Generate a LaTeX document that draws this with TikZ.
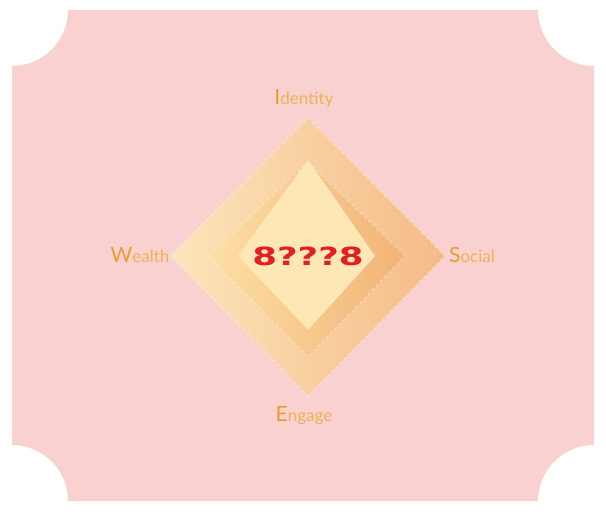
\documentclass[tikz,border=0pt]{standalone}
\usepackage{fontspec}
\setmainfont{Lato}
\newfontfamily\hubfont{DejaVu Sans}
\usepackage{tikz}

\definecolor{bgpink}{RGB}{249,209,209}
\definecolor{capor}{RGB}{232,158,40}
\definecolor{restor}{RGB}{240,178,84}
\definecolor{outerL}{RGB}{252,229,187}
\definecolor{outerR}{RGB}{245,187,134}
\definecolor{midL}{RGB}{253,224,166}
\definecolor{midR}{RGB}{242,178,118}
\definecolor{innerY}{RGB}{253,231,181}
\definecolor{hubred}{RGB}{226,32,36}

\newcommand{\axislabel}[2]{{\color{capor}\fontsize{21}{21}\selectfont #1}{\color{restor}\fontsize{17}{17}\selectfont #2}}

\tikzset{
    axislbl/.style={inner sep=0pt, anchor=base},
    rimline/.style={draw=white, draw opacity=0.35, dashed, line width=1.2pt}
}

\begin{document}
\begin{tikzpicture}[x=1pt, y=-1pt]
    \useasboundingbox (0,0) rectangle (606,514);

    % card with scooped corners
    \fill[bgpink] (12,66) arc (90:0:56) -- (538,10) arc (180:90:56)
        -- (594,445) arc (270:180:56) -- (68,501) arc (0:-90:56) -- cycle;

    \coordinate (O) at (308,256);

    % layered diamonds
    \shade[left color=outerL, right color=outerR] (308,118) -- (445,256) -- (308,396) -- (171,256) -- cycle;
    \draw[rimline] (308,118) -- (445,256) -- (308,396) -- (171,256) -- cycle;
    \shade[left color=midL, right color=midR] (308,162) -- (405,256) -- (308,357) -- (208,256) -- cycle;
    \draw[rimline] (308,162) -- (405,256) -- (308,357) -- (208,256) -- cycle;
    \fill[innerY] (308,160) -- (375,256) -- (308,330) -- (238,256) -- cycle;

    \node[text=hubred, font=\hubfont\bfseries\fontsize{25}{25}\selectfont, xscale=1.42, inner sep=0pt] (hub) at (O) {8???8};

    % axis labels
    \node[axislbl] (identity) at (304,104) {\axislabel{I}{dentity}};
    \node[axislbl] (wealth) at (140,262) {\axislabel{W}{ealth}};
    \node[axislbl] (social) at (472,262) {\axislabel{S}{ocial}};
    \node[axislbl] (engage) at (304,421) {\axislabel{E}{ngage}};
\end{tikzpicture}
\end{document}
